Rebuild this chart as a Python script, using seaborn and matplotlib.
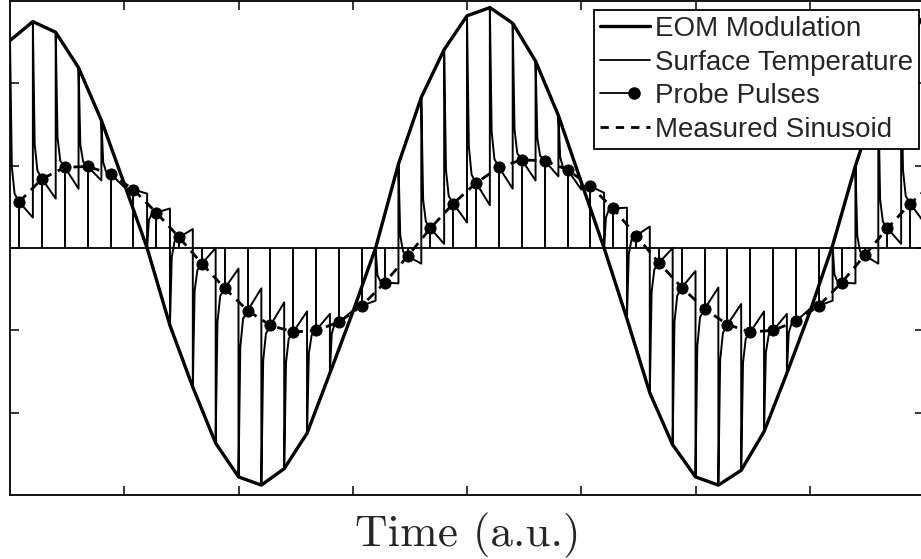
import numpy as np
import pandas as pd
import matplotlib
matplotlib.use("Agg")
import matplotlib.pyplot as plt
import seaborn as sns
from matplotlib.lines import Line2D
from matplotlib.legend_handler import HandlerLine2D

# ---------------- data ----------------
pulse_time = [0.0, 0.2, 0.4, 0.6, 0.8, 1.0, 1.2, 1.4, 1.6, 1.8, 2.0, 2.2, 2.4, 2.6,
              2.8, 3.0, 3.2, 3.4, 3.6, 3.8, 4.0, 4.2, 4.4, 4.6, 4.8, 5.0, 5.2, 5.4,
              5.6, 5.8, 6.0, 6.2, 6.4, 6.6, 6.8, 7.0, 7.2, 7.4, 7.6, 7.8, 8.0]

# EOM modulation value at every pump pulse
eom = [2.52, 2.75, 2.62, 2.19, 1.55, 0.78, 0.00, -0.94, -1.69, -2.37, -2.78, -2.88,
       -2.68, -2.25, -1.52, -0.78, 0.00, 1.02, 1.83, 2.41, 2.82, 2.92, 2.73, 2.27,
       1.61, 0.80, 0.00, -0.86, -1.76, -2.39, -2.78, -2.88, -2.70, -2.23, -1.52,
       -0.78, 0.03, 1.00, 1.83, 2.41, 2.82]

# surface temperature just before each pulse
pre = [2.52, 0.37, 0.60, 0.72, 0.82, 0.74, 0.66, 0.48, 0.23, 0.00, -0.25, -0.49,
       -0.66, -0.77, -0.80, -0.76, -0.64, -0.43, -0.19, 0.05, 0.31, 0.52, 0.72, 0.82,
       0.87, 0.71, 0.67, 0.49, 0.26, 0.00, -0.28, -0.48, -0.68, -0.77, -0.80, -0.74,
       -0.64, -0.43, -0.19, 0.05, 0.31]

# surface temperature shortly after the jump (first knee of the decay)
knee_a = [0.99, 1.26, 1.34, 1.25, 1.04, 0.73, 0.34, -0.11, -0.52, -0.90, -1.20, -1.37,
          -1.39, -1.28, -1.04, -0.72, -0.33, 0.15, 0.59, 0.95, 1.24, 1.41, 1.44, 1.33,
          1.10, 0.76, 0.37, -0.07, -0.53, -0.90, -1.19, -1.36, -1.39, -1.27, -1.03,
          -0.72, -0.32, 0.15, 0.59, 0.95, 1.24]

# surface temperature a little later (second knee of the decay)
knee_b = [0.66, 0.94, 1.06, 1.05, 0.93, 0.71, 0.41, 0.08, -0.27, -0.58, -0.86, -1.04,
          -1.10, -1.06, -0.93, -0.70, -0.40, -0.04, 0.32, 0.63, 0.89, 1.08, 1.15, 1.12,
          0.98, 0.75, 0.46, 0.10, -0.26, -0.58, -0.84, -1.03, -1.10, -1.06, -0.92,
          -0.70, -0.40, -0.04, 0.32, 0.63, 0.89]

# probe pulse readings
probe = [0.56, 0.84, 0.98, 0.99, 0.90, 0.71, 0.43, 0.13, -0.19, -0.49, -0.76, -0.94,
         -1.02, -1.00, -0.90, -0.70, -0.42, -0.10, 0.24, 0.54, 0.79, 0.98, 1.07, 1.06,
         0.95, 0.75, 0.48, 0.15, -0.18, -0.48, -0.74, -0.93, -1.02, -1.00, -0.89,
         -0.70, -0.42, -0.09, 0.24, 0.54, 0.79]

legend_labels = ["EOM Modulation", "Surface Temperature", "Probe Pulses",
                 "Measured Sinusoid"]
x_label = "Time (a.u.)"

knee_a_delay = 0.016
knee_b_delay = 0.04
probe_delay = 0.08

# ---------------- tables ----------------
df_eom = pd.DataFrame({"t": pulse_time, "v": eom})

sx, sy = [], []
for t, v, e, qa, qb, p in zip(pulse_time, pre, eom, knee_a, knee_b, probe):
    sx += [t, t, t + knee_a_delay, t + knee_b_delay, t + probe_delay]
    sy += [v, e, qa, qb, p]
df_surf = pd.DataFrame({"t": sx, "v": sy})

df_probe = pd.DataFrame({"t": [t + probe_delay for t in pulse_time], "v": probe})

# ---------------- figure ----------------
sns.set_style("ticks")

fig = plt.figure(figsize=(9.21, 5.59), dpi=100)
ax = fig.add_axes([10 / 921, 64 / 559, 914 / 921, 494 / 559])

ax.axhline(0, color="black", lw=1.3, zorder=2)
ax.vlines(df_probe["t"], 0, df_probe["v"], color="black", lw=1.4, zorder=2)

sns.lineplot(data=df_surf, x="t", y="v", sort=False, estimator=None,
             color="black", lw=1.4, ax=ax, zorder=3, legend=False)
sns.lineplot(data=df_probe, x="t", y="v", sort=False, estimator=None,
             color="black", lw=2.0, ax=ax, zorder=4, legend=False,
             linestyle=(0, (3.5, 2.5)))
sns.lineplot(data=df_eom, x="t", y="v", sort=False, estimator=None,
             color="black", lw=2.4, ax=ax, zorder=5, legend=False)
sns.scatterplot(data=df_probe, x="t", y="v", color="black", s=65,
                edgecolor="black", ax=ax, zorder=6, legend=False)

ax.set_xlim(0, 8)
ax.set_ylim(-3, 3)
ax.set_xticks([1, 2, 3, 4, 5, 6, 7])
ax.set_yticks([-2, -1, 0, 1, 2])
ax.tick_params(direction="in", length=6.5, width=1.1, top=True, right=True,
               labelleft=False, labelbottom=False, color="black")
ax.set_xlabel("")
ax.set_ylabel("")
for s in ax.spines.values():
    s.set_linewidth(1.3)
    s.set_color("black")

fig.text(468 / 921, 1 - 535 / 559, x_label, ha="center", va="center",
         fontsize=32.5, family="cmr10")


class EndDotHandler(HandlerLine2D):
    def create_artists(self, legend, orig_handle, xdescent, ydescent, width,
                       height, fontsize, trans):
        arts = super().create_artists(legend, orig_handle, xdescent, ydescent,
                                      width, height, fontsize, trans)
        for a in arts:
            xd = list(a.get_xdata())
            x0, x1 = xd[0], xd[-1]
            xe = x0 + 0.68 * (x1 - x0)
            if len(xd) == 3:
                a.set_xdata([x0, xe, xe])
            elif len(xd) == 2:
                a.set_xdata([x0, xe])
            else:
                a.set_xdata([xe])
        return arts


h1 = Line2D([], [], color="black", lw=2.4)
h2 = Line2D([], [], color="black", lw=1.3)
h3 = Line2D([], [], color="black", lw=1.3, marker="o", ms=8)
h4 = Line2D([], [], color="black", lw=2.0, linestyle=(0, (3.0, 2.5)))
leg = ax.legend([h1, h2, h3, h4], legend_labels, loc="upper right",
                bbox_to_anchor=(919 / 921, 1 - 10 / 559),
                bbox_transform=fig.transFigure, borderaxespad=0,
                frameon=True, fancybox=False, framealpha=1, edgecolor="black",
                prop={"family": "Liberation Sans", "size": 20},
                handlelength=1.8, handletextpad=0.18, borderpad=0.22,
                labelspacing=0.27, handler_map={h3: EndDotHandler()})
leg.get_frame().set_linewidth(1.3)
leg.set_zorder(10)

fig.savefig("out.png", dpi=100)
